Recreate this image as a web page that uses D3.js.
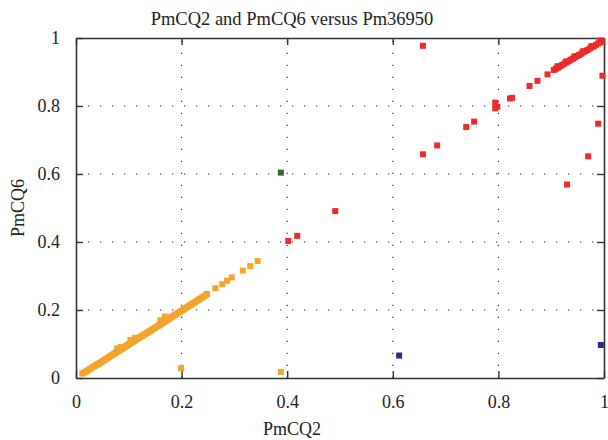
<!DOCTYPE html>
<html>
<head>
<meta charset="utf-8">
<script src="https://cdn.jsdelivr.net/npm/d3@7"></script>
<style>
  body { margin: 0; background: #fff; }
  svg text { font-family: "Liberation Serif", "DejaVu Serif", serif; fill: #222; }
</style>
</head>
<body>
<div id="chart"></div>
<script>
// orange series (dense diagonal near the origin, plus two outliers)
const orangeX = [0.012, 0.015, 0.018, 0.021, 0.024, 0.027, 0.030, 0.033, 0.036, 0.039, 0.042, 0.045, 0.048, 0.051, 0.054, 0.057, 0.060, 0.063, 0.066, 0.069, 0.072, 0.075, 0.077, 0.080, 0.083, 0.086, 0.089, 0.092, 0.095, 0.098, 0.101, 0.104, 0.107, 0.110, 0.113, 0.116, 0.119, 0.122, 0.125, 0.128, 0.131, 0.134, 0.137, 0.140, 0.143, 0.146, 0.149, 0.152, 0.155, 0.158, 0.161, 0.164, 0.167, 0.170, 0.173, 0.176, 0.179, 0.182, 0.185, 0.188, 0.191, 0.194, 0.197, 0.200, 0.203, 0.206, 0.209, 0.212, 0.215, 0.218, 0.221, 0.224, 0.227, 0.230, 0.233, 0.236, 0.239, 0.242, 0.245, 0.248, 0.264, 0.277, 0.286, 0.295, 0.316, 0.330, 0.344, 0.078, 0.085, 0.103, 0.112, 0.160, 0.168, 0.172, 0.199, 0.388];
const orangeY = [0.013, 0.016, 0.018, 0.021, 0.024, 0.027, 0.030, 0.033, 0.036, 0.039, 0.041, 0.044, 0.047, 0.050, 0.053, 0.056, 0.059, 0.062, 0.065, 0.068, 0.071, 0.074, 0.077, 0.079, 0.082, 0.085, 0.088, 0.091, 0.094, 0.097, 0.100, 0.103, 0.106, 0.109, 0.112, 0.115, 0.118, 0.121, 0.124, 0.127, 0.129, 0.132, 0.135, 0.138, 0.141, 0.144, 0.147, 0.150, 0.153, 0.156, 0.159, 0.162, 0.165, 0.168, 0.171, 0.174, 0.177, 0.180, 0.183, 0.186, 0.189, 0.192, 0.195, 0.198, 0.201, 0.204, 0.207, 0.210, 0.213, 0.216, 0.219, 0.222, 0.225, 0.228, 0.231, 0.234, 0.237, 0.240, 0.243, 0.247, 0.264, 0.276, 0.286, 0.296, 0.316, 0.329, 0.344, 0.087, 0.091, 0.112, 0.118, 0.170, 0.181, 0.178, 0.029, 0.018];

// red series
const redX = [0.402, 0.419, 0.491, 0.657, 0.657, 0.684, 0.739, 0.754, 0.794, 0.798, 0.794, 0.822, 0.826, 0.859, 0.874, 0.893, 0.905, 0.909, 0.913, 0.917, 0.921, 0.925, 0.929, 0.933, 0.937, 0.941, 0.945, 0.949, 0.953, 0.957, 0.961, 0.965, 0.969, 0.973, 0.977, 0.981, 0.985, 0.989, 0.993, 0.996, 0.912, 0.928, 0.944, 0.960, 0.976, 0.992, 0.997, 0.989, 0.970, 0.930];
const redY = [0.403, 0.418, 0.491, 0.977, 0.658, 0.684, 0.738, 0.754, 0.810, 0.798, 0.793, 0.822, 0.824, 0.859, 0.874, 0.893, 0.906, 0.910, 0.913, 0.917, 0.921, 0.925, 0.928, 0.932, 0.936, 0.939, 0.943, 0.947, 0.950, 0.954, 0.958, 0.962, 0.965, 0.969, 0.973, 0.976, 0.980, 0.984, 0.987, 0.990, 0.917, 0.931, 0.946, 0.961, 0.976, 0.992, 0.889, 0.748, 0.652, 0.569];

// green and navy series
const greenX = [0.388];
const greenY = [0.604];
const navyX = [0.612, 0.994];
const navyY = [0.066, 0.097];

const tickValues = [0, 0.2, 0.4, 0.6, 0.8, 1];

const width = 608, height = 440;
const margin = {top: 38, right: 4, bottom: 62, left: 76};

const svg = d3.select("#chart").append("svg")
    .attr("width", width)
    .attr("height", height);

const x = d3.scaleLinear().domain([0, 1]).range([margin.left, width - margin.right]);
const y = d3.scaleLinear().domain([0, 1]).range([height - margin.bottom, margin.top]);

const fmt = d => d === 0 || d === 1 ? String(d) : d3.format(".1f")(d);

// dotted grid
svg.append("g").selectAll("line")
    .data(tickValues.slice(1, -1))
    .join("line")
    .attr("x1", d => x(d)).attr("x2", d => x(d))
    .attr("y1", y(0)).attr("y2", y(1))
    .attr("stroke", "#333").attr("stroke-width", 1.2)
    .attr("stroke-dasharray", "1.3,10.7");
svg.append("g").selectAll("line")
    .data(tickValues.slice(1, -1))
    .join("line")
    .attr("y1", d => y(d)).attr("y2", d => y(d))
    .attr("x1", x(0)).attr("x2", x(1))
    .attr("stroke", "#333").attr("stroke-width", 1.2)
    .attr("stroke-dasharray", "1.3,10.7");

// axes, ticks inward on all four sides
const tickLen = 7;
const xBottom = svg.append("g").attr("transform", `translate(0,${y(0)})`)
    .call(d3.axisBottom(x).tickValues(tickValues).tickSizeInner(-tickLen).tickSizeOuter(0).tickPadding(tickLen + 10).tickFormat(fmt));
const xTop = svg.append("g").attr("transform", `translate(0,${y(1)})`)
    .call(d3.axisTop(x).tickValues(tickValues).tickSizeInner(-tickLen).tickSizeOuter(0).tickFormat(""));
const yLeft = svg.append("g").attr("transform", `translate(${x(0)},0)`)
    .call(d3.axisLeft(y).tickValues(tickValues).tickSizeInner(-tickLen).tickSizeOuter(0).tickPadding(tickLen + 9).tickFormat(fmt));
const yRight = svg.append("g").attr("transform", `translate(${x(1)},0)`)
    .call(d3.axisRight(y).tickValues(tickValues).tickSizeInner(-tickLen).tickSizeOuter(0).tickFormat(""));

for (const g of [xBottom, xTop, yLeft, yRight]) {
    g.select(".domain").attr("stroke", "#333").attr("stroke-width", 1.6);
    g.selectAll(".tick line").attr("stroke", "#333").attr("stroke-width", 1.4);
    g.selectAll(".tick text").attr("font-size", 18).attr("fill", "#222")
        .style("font-family", "'Liberation Serif', serif");
}

// points
const size = 6;
function drawSeries(xs, ys, color) {
    svg.append("g").selectAll("rect")
        .data(xs.map((v, i) => [v, ys[i]]))
        .join("rect")
        .attr("x", d => x(d[0]) - size / 2)
        .attr("y", d => y(d[1]) - size / 2)
        .attr("width", size).attr("height", size)
        .attr("fill", color);
}
drawSeries(orangeX, orangeY, "#f5a42c");
drawSeries(redX, redY, "#ee2b2b");
drawSeries(greenX, greenY, "#2f6a2f");
drawSeries(navyX, navyY, "#2c2c86");

// titles
svg.append("text").attr("x", 292).attr("y", 25)
    .attr("text-anchor", "middle").attr("font-size", 18.5)
    .text("PmCQ2 and PmCQ6 versus Pm36950");
svg.append("text").attr("x", 292).attr("y", 435)
    .attr("text-anchor", "middle").attr("font-size", 18)
    .text("PmCQ2");
svg.append("text")
    .attr("transform", `translate(24,${(y(0) + y(1)) / 2}) rotate(-90)`)
    .attr("text-anchor", "middle").attr("font-size", 18)
    .text("PmCQ6");
</script>
</body>
</html>
